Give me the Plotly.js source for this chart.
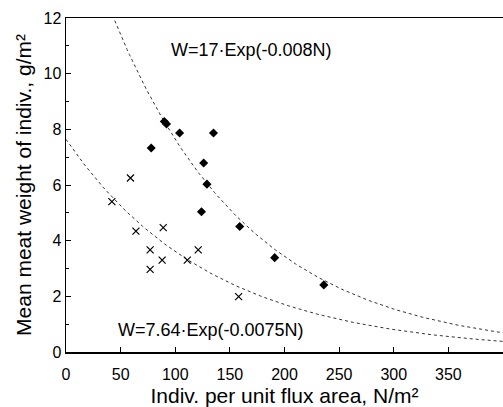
<!DOCTYPE html>
<html><head><meta charset="utf-8">
<script src="https://cdn.plot.ly/plotly-3.0.1.min.js"></script>
<style>html,body{margin:0;padding:0;background:#fff}#chart{width:503px;height:407px}</style>
</head><body><div id="chart"></div>
<script>
// Filled diamonds (upper group)
const diamondN = [90, 92, 104, 135, 78, 126, 129, 124, 159, 191, 236];
const diamondW = [8.28, 8.19, 7.87, 7.87, 7.33, 6.79, 6.03, 5.04, 4.51, 3.39, 2.41];
// Crosses (lower group)
const crossN = [59, 42, 64, 89, 77, 77, 88, 111, 121, 158];
const crossW = [6.25, 5.40, 4.34, 4.47, 3.67, 2.97, 3.30, 3.30, 3.67, 1.99];
// Fitted curves W = a*exp(b*N)
const fitUpper = {a: 17, b: -0.008, label: "W=17·Exp(-0.008N)"};
const fitLower = {a: 7.64, b: -0.0075, label: "W=7.64·Exp(-0.0075N)"};
const xTicks = [0, 50, 100, 150, 200, 250, 300, 350];
const yTicks = [0, 2, 4, 6, 8, 10, 12];

function curve(f) {
  const xs = [], ys = [];
  for (let n = 0; n <= 400; n += 2) { xs.push(n); ys.push(f.a * Math.exp(f.b * n)); }
  return {x: xs, y: ys};
}
const cu = curve(fitUpper), cl = curve(fitLower);
const font = "Liberation Sans, Arial, sans-serif";
const traces = [
  {x: cu.x, y: cu.y, mode: "lines", line: {color: "#333", width: 1, dash: "dot"}, hoverinfo: "skip"},
  {x: cl.x, y: cl.y, mode: "lines", line: {color: "#333", width: 1, dash: "dot"}, hoverinfo: "skip"},
  {x: diamondN, y: diamondW, mode: "markers", marker: {symbol: "diamond", size: 7, color: "#000"}},
  {x: crossN, y: crossW, mode: "markers", marker: {symbol: "x-thin-open", size: 7, color: "#000", line: {width: 1.2, color: "#000"}}}
];
const layout = {
  width: 503, height: 407,
  margin: {l: 66, r: 0, t: 18, b: 55},
  showlegend: false,
  plot_bgcolor: "#fff", paper_bgcolor: "#fff",
  font: {family: font, color: "#000"},
  xaxis: {
    range: [0, 400], tickvals: xTicks, ticktext: xTicks.map(String),
    ticks: "inside", ticklen: 5, tickwidth: 1, tickcolor: "#000",
    ticklabelstandoff: 7, automargin: false,
    showline: true, linecolor: "#000", linewidth: 1.5, mirror: true,
    showgrid: false, zeroline: false,
    tickfont: {size: 16, family: font},
    title: {text: "Indiv. per unit flux area, N/m²", font: {size: 21, family: font}, standoff: 9}
  },
  yaxis: {
    range: [0, 12], tickvals: yTicks, ticktext: yTicks.map(String),
    ticks: "inside", ticklen: 5, tickwidth: 1, tickcolor: "#000",
    automargin: false,
    minor: {dtick: 1, ticks: "inside", ticklen: 3, tickcolor: "#000", showgrid: false},
    showline: true, linecolor: "#000", linewidth: 1.5,
    showgrid: false, zeroline: false,
    tickfont: {size: 16, family: font},
    title: {text: "Mean meat weight of indiv., g/m²", font: {size: 21, family: font}, standoff: 6}
  },
  annotations: [
    {x: 170, y: 10.85, xref: "x", yref: "y", text: fitUpper.label, showarrow: false, font: {size: 18, family: font}},
    {x: 133, y: 0.79, xref: "x", yref: "y", text: fitLower.label, showarrow: false, font: {size: 18, family: font}}
  ]
};
Plotly.newPlot("chart", traces, layout, {displayModeBar: false, staticPlot: true});
</script></body></html>
